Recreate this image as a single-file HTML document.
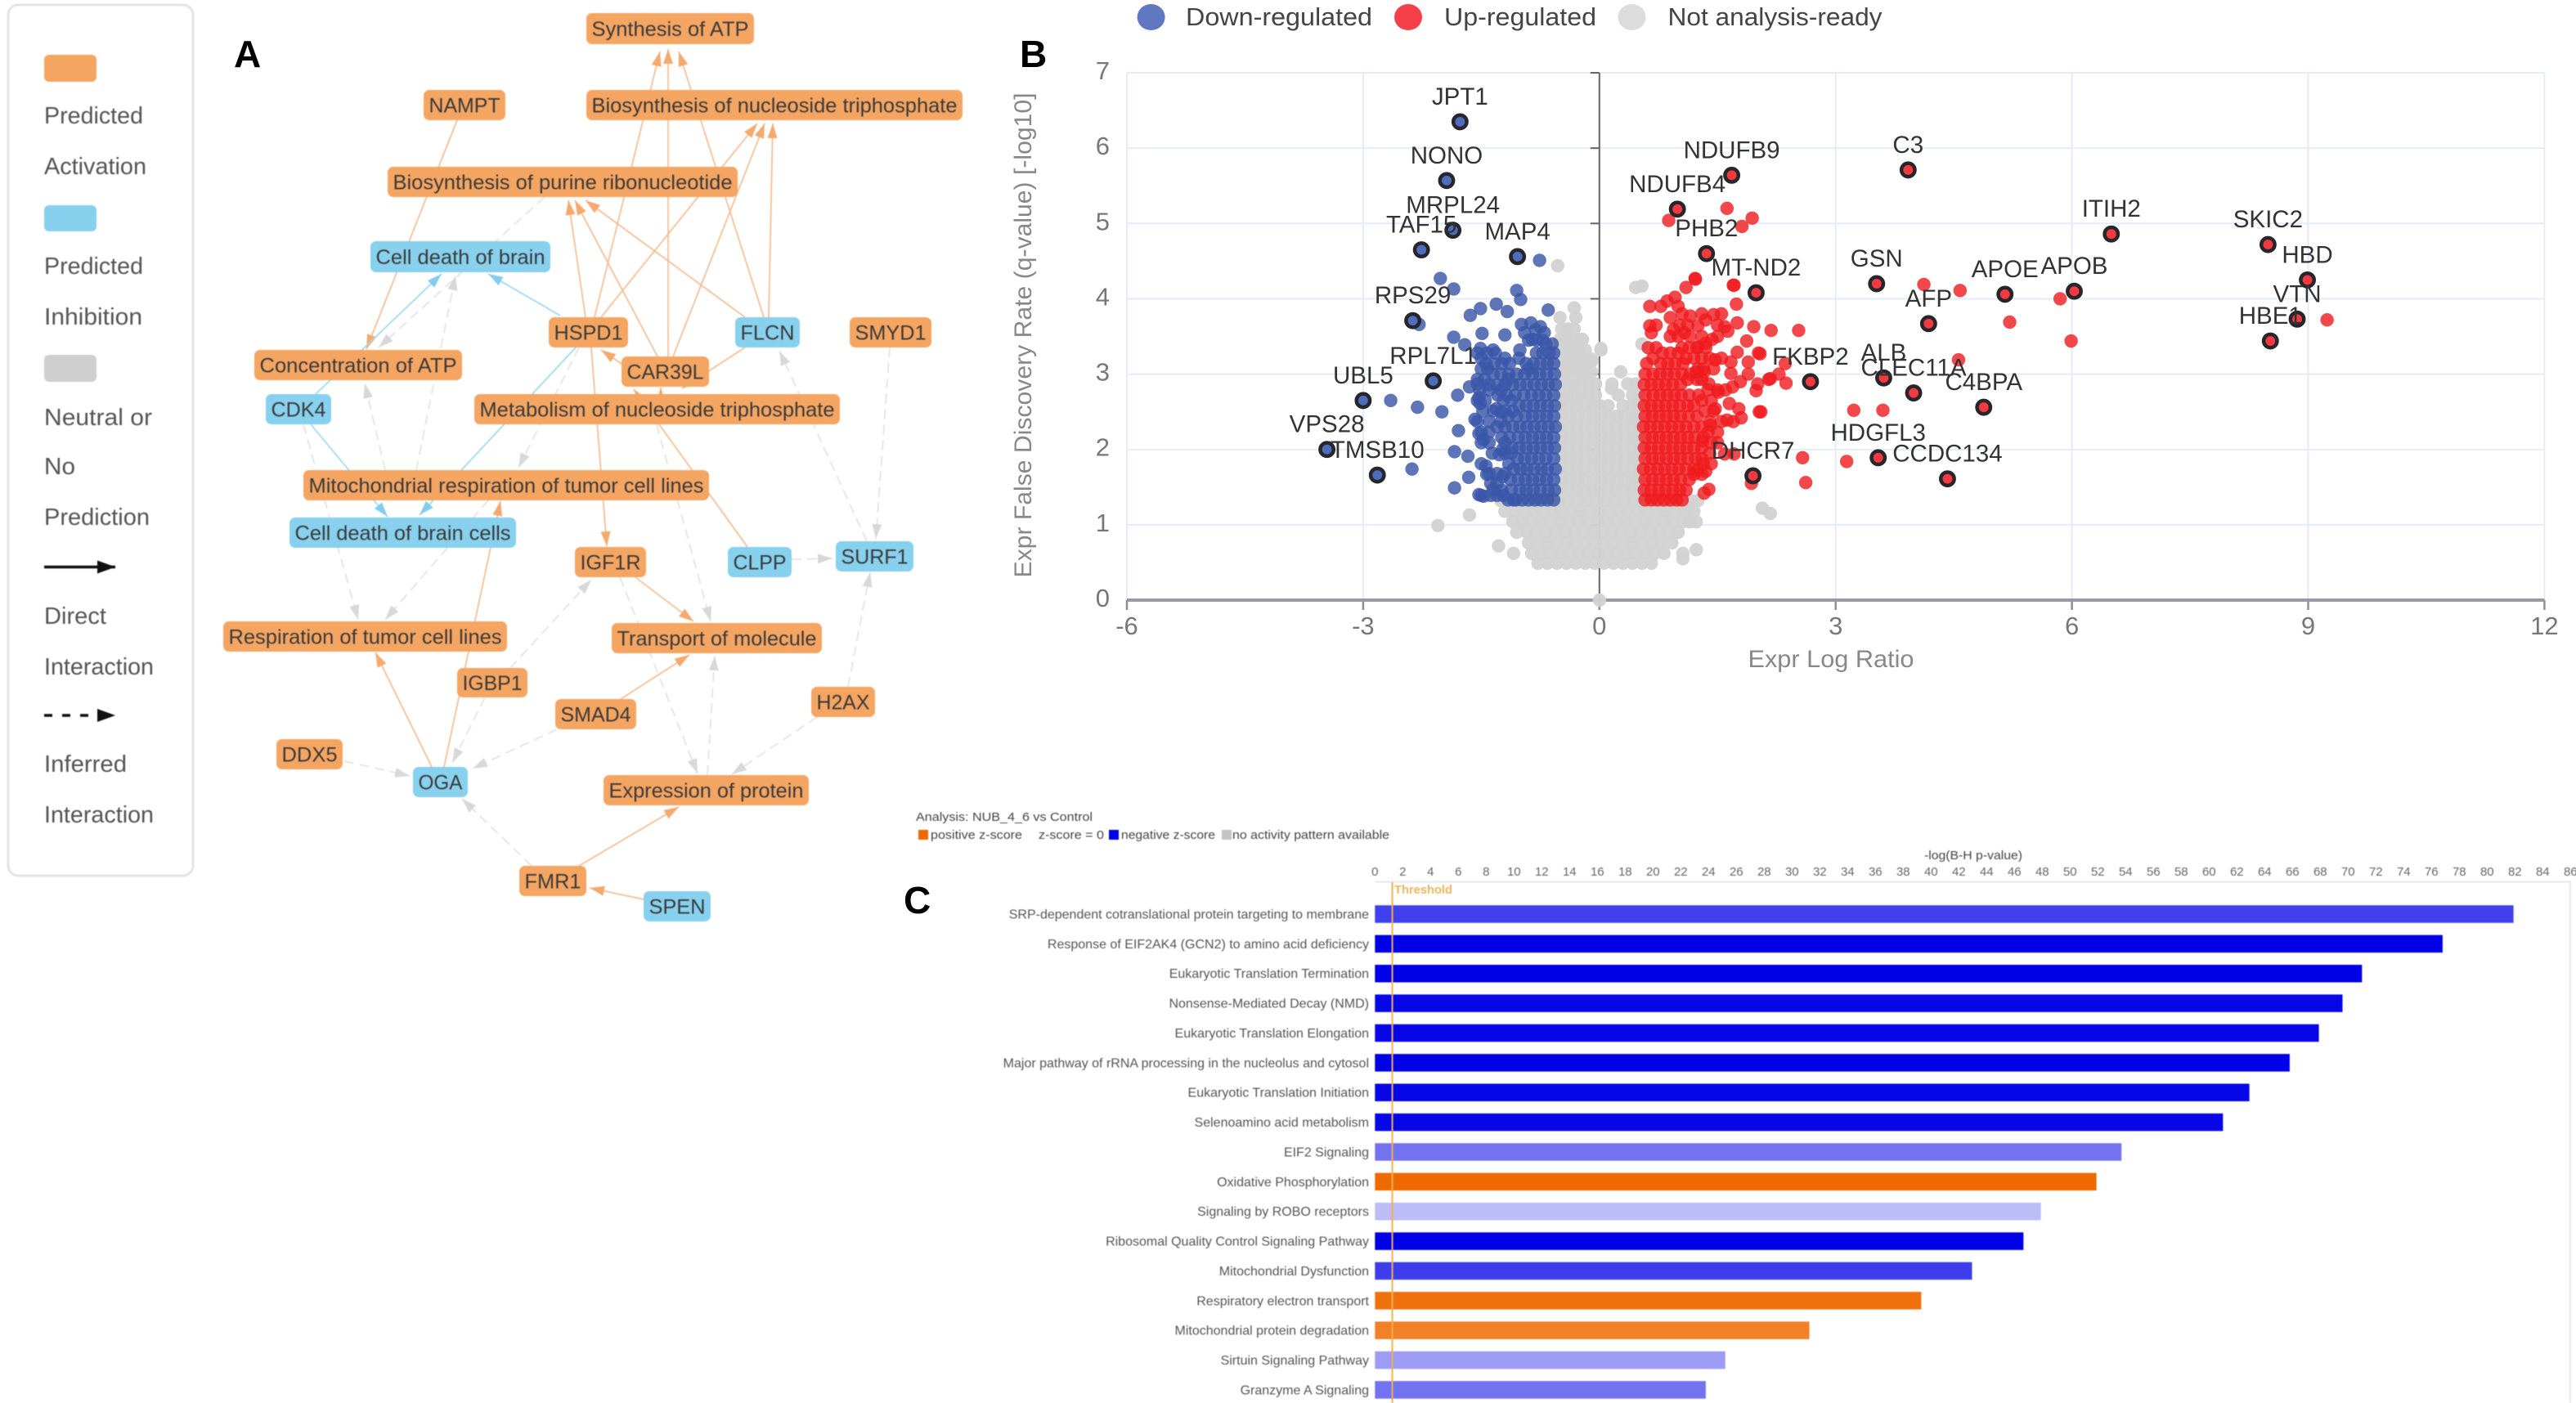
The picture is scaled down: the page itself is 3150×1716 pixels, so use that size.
<!DOCTYPE html>
<html lang="en">
<head>
<meta charset="utf-8">
<title>Panels A, B and C: pathway network, volcano plot and enrichment bars</title>
<style>
html,body{margin:0;padding:0;background:#fff}
svg{display:block;font-family:"Liberation Sans",sans-serif}
.soft{filter:blur(.6px)}
</style>
</head>
<body>
<svg id="fig" xmlns="http://www.w3.org/2000/svg" width="3150" height="1716" viewBox="0 0 3150 1716">
<defs>
<marker id="head-orange" markerUnits="userSpaceOnUse" markerWidth="20" markerHeight="14" refX="18" refY="7" orient="auto"><path d="M0,1 L18,7 L0,13 Z" fill="#f5a96c"/></marker>
<marker id="head-blue" markerUnits="userSpaceOnUse" markerWidth="20" markerHeight="14" refX="18" refY="7" orient="auto"><path d="M0,1 L18,7 L0,13 Z" fill="#84cdee"/></marker>
<marker id="head-grey" markerUnits="userSpaceOnUse" markerWidth="20" markerHeight="14" refX="18" refY="7" orient="auto"><path d="M0,1 L18,7 L0,13 Z" fill="#d8d8d8"/></marker>
<marker id="head-black" markerUnits="userSpaceOnUse" markerWidth="24" markerHeight="18" refX="22" refY="9" orient="auto"><path d="M0,1 L22,9 L0,17 Z" fill="#111"/></marker>
</defs>

<g class="soft">
<rect x="10" y="6" width="226" height="1065" rx="12" fill="#fff" stroke="#e4e4e4" stroke-width="3"/>
<rect x="54" y="67" width="64" height="33" rx="6" fill="#f5a562"/>
<text x="54" y="151" font-size="28.5" fill="#555" textLength="121" lengthAdjust="spacingAndGlyphs">Predicted</text>
<text x="54" y="213" font-size="28.5" fill="#555" textLength="125" lengthAdjust="spacingAndGlyphs">Activation</text>
<rect x="54" y="251" width="64" height="32" rx="6" fill="#87d0ee"/>
<text x="54" y="335" font-size="28.5" fill="#555" textLength="121" lengthAdjust="spacingAndGlyphs">Predicted</text>
<text x="54" y="397" font-size="28.5" fill="#555" textLength="120" lengthAdjust="spacingAndGlyphs">Inhibition</text>
<rect x="54" y="434" width="64" height="33" rx="6" fill="#cfcfcf"/>
<text x="54" y="520" font-size="28.5" fill="#555" textLength="132" lengthAdjust="spacingAndGlyphs">Neutral or</text>
<text x="54" y="580" font-size="28.5" fill="#555" textLength="38" lengthAdjust="spacingAndGlyphs">No</text>
<text x="54" y="642" font-size="28.5" fill="#555" textLength="129" lengthAdjust="spacingAndGlyphs">Prediction</text>
<line x1="54" y1="693.5" x2="141" y2="693.5" stroke="#111" stroke-width="3.5" marker-end="url(#head-black)"/>
<text x="54" y="763" font-size="28.5" fill="#555" textLength="76" lengthAdjust="spacingAndGlyphs">Direct</text>
<text x="54" y="825" font-size="28.5" fill="#555" textLength="134" lengthAdjust="spacingAndGlyphs">Interaction</text>
<line x1="54" y1="875" x2="141" y2="875" stroke="#111" stroke-width="3.5" stroke-dasharray="10 12" marker-end="url(#head-black)"/>
<text x="54" y="944" font-size="28.5" fill="#555" textLength="101" lengthAdjust="spacingAndGlyphs">Inferred</text>
<text x="54" y="1006" font-size="28.5" fill="#555" textLength="134" lengthAdjust="spacingAndGlyphs">Interaction</text>
</g>

<text x="286" y="82" font-size="46" font-weight="bold" fill="#000">A</text>
<text x="1247" y="82" font-size="46" font-weight="bold" fill="#000">B</text>
<text x="1105" y="1117" font-size="46" font-weight="bold" fill="#000">C</text>

<g id="network" class="soft"></g>
<g id="volcano"></g>
<g id="bars" class="soft"></g>
</svg>

<script>
/* ---------- Panel A: network layout ---------- */
const networkNodes = [
 ['Synthesis of ATP',717,16,205,38,'o'],['NAMPT',518,110,100,37,'o'],
 ['Biosynthesis of nucleoside triphosphate',717,110,460,37,'o'],
 ['Biosynthesis of purine ribonucleotide',474,204,428,37,'o'],
 ['Cell death of brain',453,295,220,38,'b'],['HSPD1',671,388,97,37,'o'],
 ['FLCN',899,388,79,37,'b'],['SMYD1',1039,388,100,37,'o'],
 ['Concentration of ATP',311,428,254,37,'o'],['Metabolism of nucleoside triphosphate',580,482,447,37,'o'],
 ['CAR39L',760,436,107,37,'o'],['CDK4',325,482,80,37,'b'],
 ['Mitochondrial respiration of tumor cell lines',371,575,496,37,'o'],
 ['Cell death of brain cells',354,633,277,37,'b'],['IGF1R',703,669,87,37,'o'],
 ['CLPP',890,669,78,37,'b'],['SURF1',1022,662,95,37,'b'],
 ['Respiration of tumor cell lines',273,760,347,37,'o'],['Transport of molecule',748,762,257,37,'o'],
 ['IGBP1',559,817,86,36,'o'],['SMAD4',679,855,99,37,'o'],['H2AX',992,840,78,37,'o'],
 ['DDX5',338,904,81,37,'o'],['OGA',505,938,67,37,'b'],['Expression of protein',738,948,251,37,'o'],
 ['FMR1',635,1059,82,37,'o'],['SPEN',787,1090,82,37,'b']
];
const networkEdges = [
 [727,388,807,63,'o'],[817,436,817,60,'o'],[934,388,830,63,'o'],[735,388,926,151,'o'],
 [823,436,935,151,'o'],[940,388,945,151,'o'],[716,388,695,245,'o'],[804,436,703,245,'o'],
 [911,388,716,245,'o'],[559,147,448,427,'o'],[685,386,597,335,'b'],[386,482,540,335,'b'],
 [666,241,463,425,'g'],[509,575,557,337,'g'],[471,575,446,469,'g'],[380,519,474,632,'b'],
 [704,425,513,630,'b'],[371,519,438,758,'g'],[708,425,634,572,'g'],[597,612,471,758,'g'],
 [723,425,742,668,'o'],[775,455,735,428,'o'],[914,669,775,476,'o'],[808,500,808,474,'o'],
 [911,425,834,475,'o'],[803,519,869,760,'g'],[1060,662,953,429,'g'],[1088,425,1071,659,'g'],
 [543,938,612,613,'o'],[528,938,459,798,'o'],[624,817,723,709,'g'],[593,853,553,933,'g'],
 [777,706,848,760,'o'],[758,706,853,946,'g'],[759,855,843,801,'o'],[681,892,578,940,'g'],
 [865,948,874,802,'g'],[999,877,895,947,'g'],[1037,840,1064,700,'g'],[421,931,501,949,'g'],
 [650,1059,565,977,'g'],[708,1059,830,987,'o'],[787,1100,721,1086,'o'],[968,684,1018,683,'g']
];

/* ---------- Panel B: volcano data (log ratio, -log10 q) ---------- */
const xTickValues = [-6,-3,0,3,6,9,12];
const yTickValues = [0,1,2,3,4,5,6,7];
/* each row: q value, then the log ratios read along that row */
const greyRows = [
 [3.88,-.32],[3.75,-.5,-.3],[3.6,-.48,-.4,-.32],[3.46,-.5,-.42,-.34,-.22],
 [3.32,-.5,-.42,-.34,-.26,-.18,.02],[3.17,-.5,-.42,-.34,-.26,-.18,-.1],
 [3.03,-.5,-.42,-.34,-.26,-.18,-.1,.27],[2.87,-.5,-.41,-.32,-.23,-.14,-.05,.16,.36,.46],
 [2.72,-.5,-.41,-.32,-.23,-.14,-.05,.24,.42,.5],[2.58,-.49,-.39,-.29,-.19,-.09,.01,.11,.3,.4,.5],
 [2.44,-.48,-.38,-.28,-.18,-.08,.02,.12,.22,.32,.42,.5],[2.3,-.49,-.39,-.29,-.19,-.09,.01,.11,.21,.31,.41,.51],
 [2.16,-.48,-.38,-.28,-.18,-.08,.02,.12,.22,.32,.42,.5],[2.02,-.49,-.39,-.29,-.19,-.09,.01,.11,.21,.31,.41,.51],
 [1.88,-.48,-.38,-.28,-.18,-.08,.02,.12,.22,.32,.42,.5],[1.74,-.49,-.39,-.29,-.19,-.09,.01,.11,.21,.31,.41,.51],
 [1.6,-.48,-.38,-.28,-.18,-.08,.02,.12,.22,.32,.42,.5],[1.46,-.49,-.39,-.29,-.19,-.09,.01,.11,.21,.31,.41,.51],
 [1.32,-1.25,-1.12,-1,-.88,-.76,-.64,-.52,-.4,-.28,-.16,-.04,.08,.2,.32,.44,.56,.68,.8,.92,1.04,1.16,1.25],
 [1.18,-1.2,-1.08,-.96,-.84,-.72,-.6,-.48,-.36,-.24,-.12,0,.12,.24,.36,.48,.6,.72,.84,.96,1.08,1.2],
 [1.04,-1.1,-.98,-.86,-.74,-.62,-.5,-.38,-.26,-.14,-.02,.1,.22,.34,.46,.58,.7,.82,.94,1.06,1.15],
 [.9,-1.05,-.92,-.8,-.68,-.56,-.44,-.32,-.2,-.08,.04,.16,.28,.4,.52,.64,.76,.88,1],
 [.76,-.9,-.78,-.66,-.54,-.42,-.3,-.18,-.06,.06,.18,.3,.42,.54,.66,.78,.92],
 [.62,-.86,-.74,-.62,-.5,-.38,-.26,-.14,-.02,.1,.22,.34,.46,.58,.7,.82,1.06],
 [.49,-.78,-.66,-.54,-.42,-.3,-.18,-.06,.06,.18,.3,.42,.54,.66]
];
const greyScatter = [
 [-.53,4.44],[.46,4.15],[.54,4.17],[.54,3.4],[.02,3.34],[-.1,3.2],[-.215,3.46],[.155,2.81],
 [-2.05,.99],[-1.65,1.13],[-1.28,.72],[-1.09,.62],[1.23,1.04],[1.23,.67],[2.07,1.22],[2.17,1.15],
 [1.16,1.24],[1.06,.55],[0,0]
];
const downRows = [
 [1.33,-.58,-.66,-.74,-.82,-.9,-.98,-1.06,-1.16],[1.46,-.57,-.65,-.75,-.84,-.93,-1.01,-1.12,-1.24],
 [1.6,-.58,-.67,-.76,-.85,-.94,-1.03,-1.13],[1.74,-.56,-.66,-.74,-.83,-.92,-1,-1.09],
 [1.88,-.58,-.68,-.77,-.86,-.95,-1.04],[2.02,-.57,-.66,-.75,-.84,-.93,-1.02,-1.11],
 [2.16,-.58,-.67,-.76,-.85,-.94,-1.03,-1.14,-1.24],[2.3,-.56,-.65,-.74,-.83,-.92,-1.01,-1.1,-1.2,-1.3],
 [2.44,-.58,-.67,-.76,-.85,-.94,-1.05,-1.16],[2.58,-.57,-.66,-.75,-.84,-.93,-1.02],
 [2.72,-.58,-.68,-.77,-.86,-.96,-1.07,-1.18,-1.29],[2.86,-.56,-.65,-.74,-.83,-.92,-1.01,-1.1,-1.2,-1.3,-1.4],
 [3,-.57,-.67,-.76,-.85,-.95,-1.05,-1.15,-1.25,-1.35],[3.14,-.58,-.66,-.75,-.84,-.93,-1.14,-1.24,-1.34,-1.44],
 [3.28,-.58,-.64,-.72,-.8,-1.32,-1.43,-1.55],[3.4,-.6,-.68],
 [1.39,-1.22,-1.3,-1.38,-1.5],[1.55,-1.3,-1.38],[1.68,-1.2,-1.3,-1.4],[1.81,-1.15,-1.5],
 [1.95,-1.12,-1.2,-1.36],[2.09,-1.2,-1.4,-1.5],[2.23,-1.4,-1.5],[2.37,-1.25,-1.4,-1.55],
 [2.51,-1.1,-1.2,-1.35,-1.48],[2.65,-1.12,-1.22,-1.45,-1.55],[2.79,-1.25,-1.4,-1.52],
 [2.93,-1.16,-1.46,-1.55],[3.07,-.9,-1.42,-1.5],[3.21,-1.02,-1.2,-1.5],[3.45,-.72,-.8,-.9],[3.55,-.7,-.95]
];
const downScatter = [
 [-2.02,4.27],[-1.85,4.13],[-1.05,4.11],[-1,3.99],[-.65,3.85],[-1.31,3.93],[-1.51,3.87],[-1.64,3.78],
 [-1.17,3.83],[-2.29,3.66],[-.87,3.68],[-.99,3.66],[-.75,3.63],[-.81,3.59],[-.85,3.46],[-1.49,3.54],
 [-1.2,3.52],[-1.85,3.49],[-1.71,3.39],[-1.01,3.32],[-1.51,3.34],[-1.35,3.32],[-.76,4.51],[-2.65,2.65],
 [-2.31,2.56],[-2,2.5],[-1.8,2.72],[-1.79,2.25],[-1.84,1.97],[-1.67,1.91],[-2.38,1.74],[-1.66,1.63],
 [-1.84,1.49],[-1.58,2.4],[-1.53,2.21],[-1.47,2.13],[-1.65,2.83],[-1.55,2.87],[-1.53,2.69],[-1.515,2.61],
 [-1.31,2.54],[-1.25,2.5],[-1.27,1.93],[-1.23,2],[-1.44,1.78],[-1.43,1.67],[-1.47,1.38],[-1.35,1.47],
 [-1.23,1.64],[-1.09,1.33],[-1.53,1.4]
];
const upRows = [
 [1.33,.58,.66,.74,.82,.9,.98,1.05],[1.46,.57,.66,.75,.84,.93,1.02,1.1],
 [1.6,.58,.67,.76,.85,.94,1.03,1.14],[1.74,.56,.65,.74,.83,.92,1.01,1.1,1.2],
 [1.88,.58,.67,.76,.85,.94,1.03,1.12,1.22,1.3],[2.02,.57,.66,.75,.84,.93,1.02,1.11,1.2,1.3],
 [2.16,.58,.67,.76,.85,.94,1.03,1.12,1.21,1.32],[2.3,.56,.65,.74,.83,.92,1.01,1.1,1.2,1.3],
 [2.44,.58,.67,.76,.85,.94,1.03,1.13,1.24],[2.58,.57,.66,.75,.84,.93,1.02,1.12,1.2],
 [2.72,.58,.68,.77,.86,.95,1.04,1.14,1.26],[2.86,.57,.66,.75,.84,.93,1.03],
 [3,.58,.68,.77,.86,.95,1.05,1.15],[3.14,.6,.78,.87,.96,1.06],[3.28,.8,.9,1],
 [1.67,1.2,1.3],[1.81,1.32,1.42],[1.95,1.4],[2.09,1.42,1.5],[2.23,1.38,1.5],[2.37,1.4,1.55,1.7],
 [2.51,1.34,1.45],[2.65,1.3,1.42],[2.79,1.38,1.5,1.6],[2.93,1.12,1.24,1.3],[3.07,1.25,1.32,1.45],
 [3.21,.68,1.1,1.2,1.3,1.4],[3.35,.62,.72,1.05,1.14,1.24,1.35],[3.5,.9,1,1.15,1.3,1.5],
 [3.65,.72,1.02,1.12,1.5],[3.8,1.05,1.3,1.55]
];
const upScatter = [
 [1.215,4.27],[1.1,4.15],[1.7,4.18],[1.74,3.93],[.96,4.02],[.86,3.97],[.64,3.9],[.78,3.9],[1,3.9],
 [1.155,3.77],[1.45,3.79],[1.35,3.72],[1.25,3.64],[.9,3.75],[.64,3.64],[.66,3.55],[1.08,3.55],[.94,3.59],
 [1.59,3.63],[1.75,3.68],[1.96,3.63],[2.18,3.58],[2.53,3.58],[1.63,3.57],[1.43,3.46],[1.87,3.44],[1.75,3.29],
 [2.02,3.28],[1.35,3.41],[1.25,3.36],[1.55,3.21],[1.47,3.19],[1.89,3.16],[1.67,3.16],[2.36,3.14],[2.37,2.88],
 [2.17,2.94],[2.01,2.87],[1.89,3],[1.67,3.01],[1.33,3.03],[1.23,3.03],[1.69,2.83],[1.79,2.9],[1.99,2.78],
 [1.39,2.87],[1.51,2.76],[1.47,2.54],[1.65,2.61],[1.77,2.54],[2.03,2.5],[1.62,2.39],[1.8,2.42],[1.41,2.32],
 [1.31,2.11],[1.25,1.73],[1.35,1.71],[1.39,1.47],[1.33,1.42],[1.59,1.94],[1.71,1.94],[1.93,1.55],[4.12,4.19],
 [4.58,4.11],[5.85,4],[5.21,3.69],[5.99,3.44],[9.24,3.72],[4.56,3.19],[3.23,2.52],[3.6,2.52],[3.14,1.84],
 [2.58,1.89],[2.62,1.56],[2.15,2.93],[2.28,3],[2.05,2.5],[2.04,3.27],[.88,5.04],[1.62,5.2],[1.81,4.96],
 [1.94,5.07],[1.71,4.18],[1.22,4.26]
];
const geneNames = ['JPT1','NONO','MRPL24','TAF15','MAP4','RPS29','RPL7L1','UBL5','VPS28','TMSB10','NDUFB9','NDUFB4','PHB2','MT-ND2','DHCR7','C3','ITIH2','SKIC2','HBD','VTN','HBE1','GSN','AFP','APOE','APOB','FKBP2','ALB','CLEC11A','C4BPA','HDGFL3','CCDC134'];
const geneLogRatio = [-1.77,-1.94,-1.86,-2.26,-1.04,-2.37,-2.11,-3,-3.46,-2.82,1.68,.99,1.36,1.99,1.95,3.92,6.5,8.49,8.99,8.86,8.52,3.52,4.18,5.15,6.03,2.68,3.61,3.99,4.88,3.54,4.42];
const geneQValue = [6.35,5.57,4.91,4.65,4.56,3.71,2.91,2.65,2,1.66,5.64,5.19,4.6,4.08,1.65,5.71,4.86,4.72,4.25,3.73,3.44,4.2,3.67,4.06,4.1,2.9,2.95,2.75,2.56,1.89,1.61];
const volcanoLegend = ['Down-regulated','Up-regulated','Not analysis-ready'];

/* ---------- Panel C: enrichment data ---------- */
const pathwayNames = ['SRP-dependent cotranslational protein targeting to membrane','Response of EIF2AK4 (GCN2) to amino acid deficiency','Eukaryotic Translation Termination','Nonsense-Mediated Decay (NMD)','Eukaryotic Translation Elongation','Major pathway of rRNA processing in the nucleolus and cytosol','Eukaryotic Translation Initiation','Selenoamino acid metabolism','EIF2 Signaling','Oxidative Phosphorylation','Signaling by ROBO receptors','Ribosomal Quality Control Signaling Pathway','Mitochondrial Dysfunction','Respiratory electron transport','Mitochondrial protein degradation','Sirtuin Signaling Pathway','Granzyme A Signaling'];
const pathwayPValues = [81.9,76.8,71,69.6,67.9,65.8,62.9,61,53.7,51.9,47.9,46.65,42.95,39.3,31.25,25.2,23.8];
const pathwayZScores = [-3,-4,-4,-3.9,-3.9,-4,-3.9,-3.9,-2.2,4,-1.05,-4,-3.05,3.8,3.4,-1.55,-2.2];
const pValueTicks = [0,2,4,6,8,10,12,14,16,18,20,22,24,26,28,30,32,34,36,38,40,42,44,46,48,50,52,54,56,58,60,62,64,66,68,70,72,74,76,78,80,82,84,86];
const thresholdValue = 1.25;

/* ---------- helpers ---------- */
const NS = 'http://www.w3.org/2000/svg';
function mk(tag, attrs, parent) {
  const e = document.createElementNS(NS, tag);
  for (const k in attrs) e.setAttribute(k, attrs[k]);
  parent.appendChild(e);
  return e;
}
function slug(s) { return s.toLowerCase().replace(/[^a-z0-9]+/g, '-').replace(/^-|-$/g, ''); }

/* ---------- draw network ---------- */
const net = document.getElementById('network');
const edgeStyle = {
  o: {stroke:'#f6bb90', marker:'url(#head-orange)', dash:'', name:'direct-activation-edge'},
  b: {stroke:'#9ad8f2', marker:'url(#head-blue)', dash:'', name:'direct-inhibition-edge'},
  g: {stroke:'#e2e2e2', marker:'url(#head-grey)', dash:'12 7', name:'inferred-neutral-edge'}
};
networkEdges.forEach(function (d) {
  const s = edgeStyle[d[4]];
  const line = mk('line', {x1:d[0], y1:d[1], x2:d[2], y2:d[3], stroke:s.stroke, 'stroke-width':1.7, 'stroke-dasharray':s.dash, 'marker-end':s.marker}, net);
  
  
});
networkNodes.forEach(function (n) {
  const g = mk('g', {}, net);
  
  
  mk('rect', {x:n[1], y:n[2], width:n[3], height:n[4], rx:7, fill: n[5] === 'o' ? '#f5a562' : '#87d0ee'}, g);
  const t = mk('text', {x:n[1] + n[3] / 2, y:n[2] + n[4] / 2 + 9, 'text-anchor':'middle', 'font-size':25, fill:'#3a3a3a', textLength:n[3] - 13, lengthAdjust:'spacingAndGlyphs'}, g);
  t.textContent = n[0];
});

/* ---------- draw volcano ---------- */
const vol = document.getElementById('volcano');
const bx = function (v) { return 1378 + (v + 6) * 96.3; };
const by = function (v) { return 734 - v * 92.14; };

yTickValues.forEach(function (v) {
  if (v > 0) {
    const g = mk('line', {x1:bx(-6), x2:bx(12), y1:by(v), y2:by(v), stroke:'#e6ecf7', 'stroke-width':2}, vol);
    
    
    const t = mk('line', {x1:bx(0) - 11, x2:bx(0), y1:by(v), y2:by(v), stroke:'#666', 'stroke-width':2}, vol);
    
    
  }
  const l = mk('text', {x:1357, y:by(v) + 8, 'text-anchor':'end', 'font-size':31, fill:'#777'}, vol);
  
  
  l.textContent = v;
});
xTickValues.forEach(function (v) {
  if (v !== 0) {
    const g = mk('line', {x1:bx(v), x2:bx(v), y1:by(7), y2:by(0), stroke:'#e6ecf7', 'stroke-width':2}, vol);
    
    
  }
  const t = mk('line', {x1:bx(v), x2:bx(v), y1:by(0), y2:by(0) + 12, stroke:'#8f8f99', 'stroke-width':2.5}, vol);
  
  
  const l = mk('text', {x:bx(v), y:776, 'text-anchor':'middle', 'font-size':31, fill:'#777'}, vol);
  
  
  l.textContent = v;
});
const yAxis = mk('line', {x1:bx(0), x2:bx(0), y1:by(7), y2:by(0), stroke:'#666', 'stroke-width':2}, vol);


const xAxis = mk('line', {x1:bx(-6), x2:bx(12), y1:by(0), y2:by(0), stroke:'#9a9aa5', 'stroke-width':4}, vol);



const xTitle = mk('text', {x:2239, y:816, 'text-anchor':'middle', 'font-size':30, fill:'#888', textLength:203, lengthAdjust:'spacingAndGlyphs'}, vol);


xTitle.textContent = 'Expr Log Ratio';
const yTitle = mk('text', {transform:'translate(1261,410) rotate(-90)', 'text-anchor':'middle', 'font-size':30, fill:'#888', textLength:593, lengthAdjust:'spacingAndGlyphs'}, vol);


yTitle.textContent = 'Expr False Discovery Rate (q-value) [-log10]';

function drawDot(x, q, fill, op, name) {
  const c = mk('circle', {cx:bx(x), cy:by(q), r:8.2, fill:fill, 'fill-opacity':op}, vol);
  
  
}
function drawRows(rows, scatter, fill, op, name) {
  rows.forEach(function (r) {
    for (let i = 1; i < r.length; i++) drawDot(r[i], r[0], fill, op, name);
  });
  scatter.forEach(function (p) { drawDot(p[0], p[1], fill, op, name); });
}
drawRows(greyRows, greyScatter, '#d2d2d2', .95, 'not-ready-point');
drawRows(downRows, downScatter, '#3a57a8', .82, 'down-regulated-point');
drawRows(upRows, upScatter, '#f01a1e', .8, 'up-regulated-point');

geneNames.forEach(function (name, i) {
  const x = geneLogRatio[i], q = geneQValue[i];
  const c = mk('circle', {cx:bx(x), cy:by(q), r:8.2, fill: x < 0 ? '#4f6dbd' : '#f23a40', stroke:'#26262c', 'stroke-width':4.5}, vol);
  
  
});
geneNames.forEach(function (name, i) {
  const t = mk('text', {x:bx(geneLogRatio[i]), y:by(geneQValue[i]) - 21, 'text-anchor':'middle', 'font-size':29.5, fill:'#333'}, vol);
  
  
  t.textContent = name;
});

[[1407.6,1450,228,'#5f78c0'],[1722,1766,186,'#f5404a'],[1995.5,2039.5,262,'#dcdcdc']].forEach(function (o, i) {
  const e = mk('ellipse', {cx:o[0], cy:21, rx:17, ry:16, fill:o[3]}, vol);
  
  
  const t = mk('text', {x:o[1], y:31, 'font-size':31, fill:'#444', textLength:o[2], lengthAdjust:'spacingAndGlyphs'}, vol);
  
  
  t.textContent = volcanoLegend[i];
});

/* ---------- draw enrichment bars ---------- */
const bars = document.getElementById('bars');
const cx = function (v) { return 1681.3 + v * 17; };
const rowY = function (i) { return 1118 + i * 36.37; };
function mix(rgb, t) {
  return 'rgb(' + rgb.map(function (c) { return Math.round(255 + (c - 255) * t); }).join(',') + ')';
}
function zColor(z) {
  const t = Math.min(1, Math.abs(z) / 4);
  return z > 0 ? mix([238,106,0], t) : mix([0,0,230], t);
}

const info = mk('text', {x:1120, y:1004, 'font-size':15, fill:'#444', textLength:216, lengthAdjust:'spacingAndGlyphs'}, bars);


info.textContent = 'Analysis: NUB_4_6 vs  Control';

[[1123,'#ee6a00','positive z-score',1138,112],[1258,'#ffffff','z-score = 0',1270,80],[1356,'#0000e6','negative z-score',1371,115],[1494,'#c4c4c4','no activity pattern available',1507,192]].forEach(function (o) {
  const s = mk('rect', {x:o[0], y:1015, width:12, height:12, fill:o[1]}, bars);
  
  
  const t = mk('text', {x:o[3], y:1026, 'font-size':15, fill:'#444', textLength:o[4], lengthAdjust:'spacingAndGlyphs'}, bars);
  
  
  t.textContent = o[2];
});

const axisTitle = mk('text', {x:2413, y:1051, 'text-anchor':'middle', 'font-size':15, fill:'#444', textLength:120, lengthAdjust:'spacingAndGlyphs'}, bars);


axisTitle.textContent = '-log(B-H p-value)';

const frame = mk('path', {d:'M' + cx(0) + ',1078.5 H3143 V1716', fill:'none', stroke:'#e8e8e8', 'stroke-width':2}, bars);



pValueTicks.forEach(function (v) {
  const t = mk('text', {x:cx(v), y:1071, 'text-anchor':'middle', 'font-size':15, fill:'#666'}, bars);
  
  
  t.textContent = v;
});
pathwayNames.forEach(function (name, i) {
  const t = mk('text', {x:1674, y:rowY(i) + 5.5, 'text-anchor':'end', 'font-size':16, fill:'#555'}, bars);
  
  
  t.textContent = name;
  const b = mk('rect', {x:cx(0), y:rowY(i) - 10.75, width:cx(pathwayPValues[i]) - cx(0), height:21.5, fill:zColor(pathwayZScores[i])}, bars);
  
  
});
const thresh = mk('line', {x1:cx(thresholdValue), x2:cx(thresholdValue), y1:1079, y2:1716, stroke:'#f0b050', 'stroke-width':2}, bars);


const threshLabel = mk('text', {x:1705, y:1093, 'font-size':15, 'font-weight':'bold', fill:'#e8b558', textLength:71, lengthAdjust:'spacingAndGlyphs'}, bars);


threshLabel.textContent = 'Threshold';
</script>
</body>
</html>
